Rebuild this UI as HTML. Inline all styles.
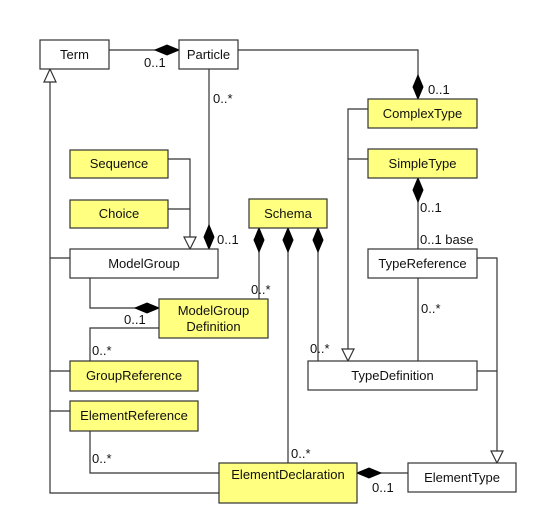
<!DOCTYPE html>
<html><head><meta charset="utf-8"><style>
html,body{margin:0;padding:0;background:#fff;}
svg{display:block;}
text{font-family:"Liberation Sans",Arial,sans-serif;font-size:13px;fill:#111;}
.b{fill:#fff;stroke:#333;stroke-width:1.2;}
.y{fill:#ffff80;stroke:#333;stroke-width:1.2;}
.l{fill:none;stroke:#333;stroke-width:1.2;}
.d{fill:#000;stroke:#000;stroke-width:1;}
.t{fill:#fff;stroke:#333;stroke-width:1.2;}
</style></head><body>
<svg width="537" height="527" viewBox="0 0 537 527" xmlns="http://www.w3.org/2000/svg">
<polyline class="l" points="109,50 179,50"/>
<polyline class="l" points="238,50 418,50 418,99"/>
<polyline class="l" points="209,69 209,249"/>
<polyline class="l" points="50,82 50,493 219,493"/>
<polyline class="l" points="50,258 70,258"/>
<polyline class="l" points="50,371 70,371"/>
<polyline class="l" points="50,411 70,411"/>
<polyline class="l" points="168,159 190,159 190,237"/>
<polyline class="l" points="168,209 190,209"/>
<polyline class="l" points="90,278 90,308 159,308"/>
<polyline class="l" points="159,328 90,328 90,361"/>
<polyline class="l" points="90,431 90,473 219,473"/>
<polyline class="l" points="259,228 259,299"/>
<polyline class="l" points="288,228 288,463"/>
<polyline class="l" points="318,228 318,361"/>
<polyline class="l" points="368,109 348,109 348,349"/>
<polyline class="l" points="348,159 368,159"/>
<polyline class="l" points="418,178 418,249"/>
<polyline class="l" points="418,278 418,361"/>
<polyline class="l" points="477,258 497,258 497,451"/>
<polyline class="l" points="477,371 497,371"/>
<polyline class="l" points="357,473 408,473"/>
<polygon class="d" points="179,50 167,45 155,50 167,55"/>
<polygon class="d" points="418,99 413,87 418,75 423,87"/>
<polygon class="d" points="209,249 204,237 209,225 214,237"/>
<polygon class="d" points="418,178 413,190 418,202 423,190"/>
<polygon class="d" points="259,228 254,240 259,252 264,240"/>
<polygon class="d" points="288,228 283,240 288,252 293,240"/>
<polygon class="d" points="318,228 313,240 318,252 323,240"/>
<polygon class="d" points="159,308 147,303 135,308 147,313"/>
<polygon class="d" points="357,473 369,468 381,473 369,478"/>
<polygon class="t" points="50,69 44,82 56,82"/>
<polygon class="t" points="190,249 184,237 196,237"/>
<polygon class="t" points="348,361 342,349 354,349"/>
<polygon class="t" points="497,463 491,451 503,451"/>
<rect class="b" x="40" y="40" width="69" height="29"/><text x="74.5" y="59" text-anchor="middle">Term</text>
<rect class="b" x="179" y="40" width="59" height="29"/><text x="208.5" y="59" text-anchor="middle">Particle</text>
<rect class="y" x="368" y="99" width="109" height="29"/><text x="422.5" y="118" text-anchor="middle">ComplexType</text>
<rect class="y" x="368" y="149" width="109" height="29"/><text x="422.5" y="168" text-anchor="middle">SimpleType</text>
<rect class="y" x="70" y="150" width="98" height="28"/><text x="119" y="168" text-anchor="middle">Sequence</text>
<rect class="y" x="70" y="200" width="98" height="28"/><text x="119" y="218" text-anchor="middle">Choice</text>
<rect class="y" x="249" y="199" width="78" height="29"/><text x="288" y="218" text-anchor="middle">Schema</text>
<rect class="b" x="70" y="249" width="148" height="29"/><text x="144" y="268" text-anchor="middle">ModelGroup</text>
<rect class="b" x="368" y="249" width="109" height="29"/><text x="422.5" y="268" text-anchor="middle">TypeReference</text>
<rect class="y" x="159" y="299" width="109" height="39"/><text x="213.5" y="315" text-anchor="middle">ModelGroup</text><text x="213.5" y="331" text-anchor="middle">Definition</text>
<rect class="y" x="70" y="361" width="128" height="30"/><text x="134" y="380" text-anchor="middle">GroupReference</text>
<rect class="b" x="308" y="361" width="169" height="29"/><text x="392.5" y="380" text-anchor="middle">TypeDefinition</text>
<rect class="y" x="70" y="401" width="128" height="30"/><text x="134" y="420" text-anchor="middle">ElementReference</text>
<rect class="y" x="219" y="463" width="138" height="40"/><text x="288" y="479" text-anchor="middle">ElementDeclaration</text>
<rect class="b" x="408" y="463" width="108" height="29"/><text x="462" y="482" text-anchor="middle">ElementType</text>
<text x="144" y="67">0..1</text>
<text x="213" y="103">0..*</text>
<text x="428" y="94">0..1</text>
<text x="217" y="244">0..1</text>
<text x="420" y="212">0..1</text>
<text x="420" y="244">0..1 base</text>
<text x="251" y="294">0..*</text>
<text x="124" y="324">0..1</text>
<text x="92" y="355">0..*</text>
<text x="421" y="313">0..*</text>
<text x="310" y="353">0..*</text>
<text x="291" y="458">0..*</text>
<text x="92" y="463">0..*</text>
<text x="372" y="492">0..1</text>
</svg>
</body></html>
